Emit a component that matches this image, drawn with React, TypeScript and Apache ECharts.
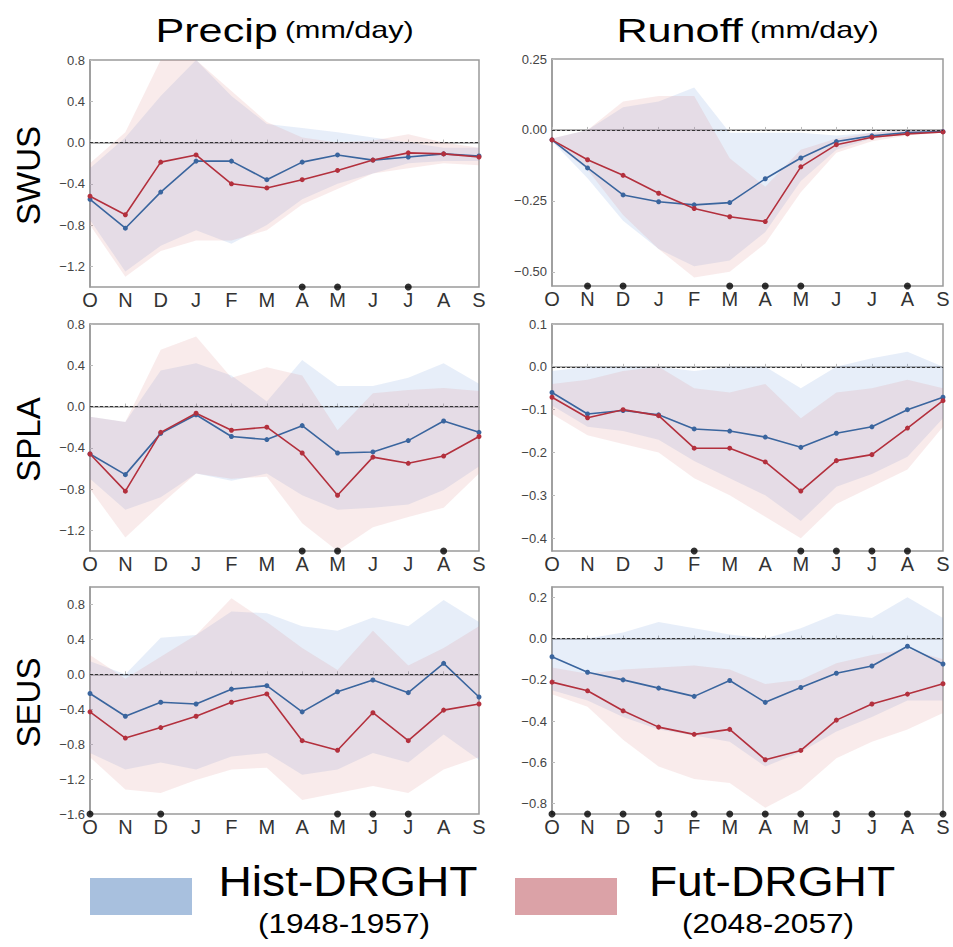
import React, { useEffect, useRef } from 'react';
import * as echarts from 'echarts';

const FONT = '"Liberation Sans", Arial, Helvetica, sans-serif';

const months = ['Oct', 'Nov', 'Dec', 'Jan', 'Feb', 'Mar', 'Apr', 'May', 'Jun', 'Jul', 'Aug', 'Sep'];

// ---------- SWUS precip ----------
const swusPrecipHist = [-0.55, -0.83, -0.48, -0.18, -0.18, -0.36, -0.19, -0.12, -0.17, -0.14, -0.11, -0.13];
const swusPrecipFut = [-0.52, -0.70, -0.19, -0.12, -0.40, -0.44, -0.36, -0.27, -0.17, -0.10, -0.11, -0.14];
const swusPrecipHistHi = [-0.25, 0.05, 0.45, 0.8, 0.45, 0.18, 0.14, 0.1, 0.05, 0.0, -0.05, -0.05];
const swusPrecipHistLo = [-0.75, -1.25, -1.0, -0.85, -0.98, -0.8, -0.55, -0.4, -0.3, -0.2, -0.18, -0.18];
const swusPrecipFutHi = [-0.2, 0.1, 0.8, 0.8, 0.5, 0.2, 0.05, 0.0, 0.02, 0.08, 0.0, -0.05];
const swusPrecipFutLo = [-0.8, -1.3, -1.05, -0.95, -0.95, -0.85, -0.6, -0.45, -0.3, -0.25, -0.2, -0.22];
const swusPrecipSig = ['Apr', 'May', 'Jul'];

// ---------- SWUS runoff ----------
const swusRunoffHist = [-0.035, -0.134, -0.229, -0.253, -0.264, -0.256, -0.172, -0.099, -0.041, -0.021, -0.009, -0.006];
const swusRunoffFut = [-0.035, -0.105, -0.160, -0.223, -0.277, -0.306, -0.323, -0.130, -0.052, -0.026, -0.014, -0.007];
const swusRunoffHistHi = [-0.03, 0.0, 0.08, 0.1, 0.15, -0.01, -0.01, -0.01, -0.02, -0.01, 0.0, 0.0];
const swusRunoffHistLo = [-0.04, -0.17, -0.32, -0.42, -0.48, -0.46, -0.36, -0.18, -0.07, -0.03, -0.015, -0.01];
const swusRunoffFutHi = [-0.03, 0.0, 0.1, 0.12, 0.12, -0.1, -0.2, -0.07, -0.03, -0.01, 0.0, 0.0];
const swusRunoffFutLo = [-0.04, -0.14, -0.3, -0.42, -0.52, -0.5, -0.4, -0.22, -0.08, -0.04, -0.02, -0.01];
const swusRunoffSig = ['Nov', 'Dec', 'Mar', 'Apr', 'May', 'Aug'];

// ---------- SPLA precip ----------
const splaPrecipHist = [-0.46, -0.66, -0.26, -0.08, -0.29, -0.32, -0.185, -0.45, -0.44, -0.33, -0.14, -0.25];
const splaPrecipFut = [-0.46, -0.82, -0.25, -0.065, -0.23, -0.20, -0.45, -0.86, -0.49, -0.55, -0.48, -0.29];
const splaPrecipHistHi = [-0.1, -0.15, 0.35, 0.42, 0.3, 0.05, 0.45, 0.2, 0.2, 0.28, 0.42, 0.22];
const splaPrecipHistLo = [-0.7, -1.0, -0.88, -0.65, -0.72, -0.65, -0.86, -1.0, -0.98, -0.95, -0.81, -0.58];
const splaPrecipFutHi = [-0.1, -0.15, 0.55, 0.68, 0.28, 0.38, 0.3, -0.23, 0.13, 0.16, 0.18, 0.15];
const splaPrecipFutLo = [-0.8, -1.27, -0.95, -0.65, -0.7, -0.68, -1.13, -1.4, -1.17, -1.07, -0.98, -0.65];
const splaPrecipSig = ['Apr', 'May', 'Aug'];

// ---------- SPLA runoff ----------
const splaRunoffHist = [-0.06, -0.11, -0.102, -0.112, -0.145, -0.15, -0.164, -0.188, -0.155, -0.14, -0.10, -0.071];
const splaRunoffFut = [-0.071, -0.119, -0.10, -0.114, -0.19, -0.19, -0.222, -0.29, -0.219, -0.205, -0.143, -0.079];
const splaRunoffHistHi = [-0.01, 0.0, 0.0, 0.0, -0.01, 0.0, 0.0, -0.05, 0.0, 0.02, 0.035, 0.0];
const splaRunoffHistLo = [-0.09, -0.14, -0.15, -0.17, -0.22, -0.26, -0.3, -0.36, -0.28, -0.25, -0.21, -0.12];
const splaRunoffFutHi = [-0.04, -0.03, -0.01, 0.0, -0.05, -0.06, -0.04, -0.12, -0.06, -0.05, -0.03, -0.05];
const splaRunoffFutLo = [-0.11, -0.16, -0.18, -0.2, -0.26, -0.3, -0.35, -0.4, -0.32, -0.28, -0.24, -0.14];
const splaRunoffSig = ['Feb', 'May', 'Jun', 'Jul', 'Aug'];

// ---------- SEUS precip ----------
const seusPrecipHist = [-0.22, -0.48, -0.32, -0.34, -0.17, -0.13, -0.43, -0.20, -0.065, -0.21, 0.126, -0.26];
const seusPrecipFut = [-0.43, -0.73, -0.61, -0.48, -0.32, -0.225, -0.76, -0.87, -0.44, -0.76, -0.41, -0.34];
const seusPrecipHistHi = [0.15, 0.0, 0.42, 0.45, 0.72, 0.7, 0.55, 0.5, 0.65, 0.55, 0.85, 0.6];
const seusPrecipHistLo = [-0.9, -1.09, -1.01, -1.09, -0.94, -0.9, -1.15, -1.09, -0.9, -1.01, -0.69, -0.98];
const seusPrecipFutHi = [0.22, -0.05, 0.2, 0.45, 0.87, 0.6, 0.3, 0.05, 0.5, 0.1, 0.3, 0.55];
const seusPrecipFutLo = [-0.95, -1.32, -1.36, -1.21, -1.09, -1.07, -1.44, -1.36, -1.28, -1.36, -1.09, -0.95];
const seusPrecipSig = ['Oct', 'Dec', 'May', 'Jun', 'Jul'];

// ---------- SEUS runoff ----------
const seusRunoffHist = [-0.088, -0.163, -0.2, -0.24, -0.28, -0.203, -0.309, -0.237, -0.168, -0.133, -0.037, -0.123];
const seusRunoffFut = [-0.211, -0.253, -0.35, -0.429, -0.464, -0.44, -0.587, -0.542, -0.395, -0.317, -0.269, -0.219];
const seusRunoffHistHi = [0.0, 0.0, 0.03, 0.08, 0.05, 0.02, 0.0, 0.05, 0.12, 0.1, 0.2, 0.1];
const seusRunoffHistLo = [-0.25, -0.3, -0.38, -0.44, -0.47, -0.5, -0.62, -0.55, -0.45, -0.38, -0.3, -0.3];
const seusRunoffFutHi = [-0.14, -0.17, -0.15, -0.14, -0.13, -0.15, -0.22, -0.2, -0.12, -0.08, -0.05, -0.1];
const seusRunoffFutLo = [-0.27, -0.33, -0.49, -0.62, -0.68, -0.7, -0.82, -0.73, -0.58, -0.5, -0.44, -0.36];
const seusRunoffSig = ['Oct', 'Nov', 'Dec', 'Jan', 'Feb', 'Mar', 'Apr', 'May', 'Jun', 'Jul', 'Aug', 'Sep'];

// ---------- axis tick labels ----------
const precipTicks = [-1.2, -0.8, -0.4, 0, 0.4, 0.8];
const seusPrecipTicks = [-1.6, -1.2, -0.8, -0.4, 0, 0.4, 0.8];
const swusRunoffTicks = [-0.5, -0.25, 0, 0.25];
const splaRunoffTicks = [-0.4, -0.3, -0.2, -0.1, 0, 0.1];
const seusRunoffTicks = [-0.8, -0.6, -0.4, -0.2, 0, 0.2];

const colTitles = ['Precip', 'Runoff'];
const rowTitles = ['SWUS', 'SPLA', 'SEUS'];
const legendNames = ['Hist-DRGHT', 'Fut-DRGHT'];
const legendYears = ['(1948-1957)', '(2048-2057)'];

const HIST_LINE = '#3a659e';
const FUT_LINE = '#b3303d';
const HIST_BAND = 'rgba(120,160,220,0.18)';
const FUT_BAND = 'rgba(220,130,130,0.16)';

type Panel = {
  hist: number[]; fut: number[];
  hHi: number[]; hLo: number[]; fHi: number[]; fLo: number[];
  sig: string[]; min: number; max: number; ticks: number[]; dec: number;
  left: number; top: number; width: number; height: number;
};

const LX = 90, LW = 389, RX = 552, RW = 391, H = 227;
const TOPS = [60, 324, 587];

const panels: Panel[] = [
  { hist: swusPrecipHist, fut: swusPrecipFut, hHi: swusPrecipHistHi, hLo: swusPrecipHistLo, fHi: swusPrecipFutHi, fLo: swusPrecipFutLo, sig: swusPrecipSig, min: -1.4, max: 0.8, ticks: precipTicks, dec: 1, left: LX, top: TOPS[0], width: LW, height: H },
  { hist: swusRunoffHist, fut: swusRunoffFut, hHi: swusRunoffHistHi, hLo: swusRunoffHistLo, fHi: swusRunoffFutHi, fLo: swusRunoffFutLo, sig: swusRunoffSig, min: -0.55, max: 0.25, ticks: swusRunoffTicks, dec: 2, left: RX, top: TOPS[0] - 1, width: RW, height: H },
  { hist: splaPrecipHist, fut: splaPrecipFut, hHi: splaPrecipHistHi, hLo: splaPrecipHistLo, fHi: splaPrecipFutHi, fLo: splaPrecipFutLo, sig: splaPrecipSig, min: -1.4, max: 0.8, ticks: precipTicks, dec: 1, left: LX, top: TOPS[1], width: LW, height: H },
  { hist: splaRunoffHist, fut: splaRunoffFut, hHi: splaRunoffHistHi, hLo: splaRunoffHistLo, fHi: splaRunoffFutHi, fLo: splaRunoffFutLo, sig: splaRunoffSig, min: -0.43, max: 0.1, ticks: splaRunoffTicks, dec: 1, left: RX, top: TOPS[1], width: RW, height: H },
  { hist: seusPrecipHist, fut: seusPrecipFut, hHi: seusPrecipHistHi, hLo: seusPrecipHistLo, fHi: seusPrecipFutHi, fLo: seusPrecipFutLo, sig: seusPrecipSig, min: -1.6, max: 1.0, ticks: seusPrecipTicks, dec: 1, left: LX, top: TOPS[2], width: LW, height: H },
  { hist: seusRunoffHist, fut: seusRunoffFut, hHi: seusRunoffHistHi, hLo: seusRunoffHistLo, fHi: seusRunoffFutHi, fLo: seusRunoffFutLo, sig: seusRunoffSig, min: -0.85, max: 0.25, ticks: seusRunoffTicks, dec: 1, left: RX, top: TOPS[2], width: RW, height: H },
];

function bandSeries(idx: number, lo: number[], hi: number[], color: string) {
  return {
    type: 'custom',
    xAxisIndex: idx,
    yAxisIndex: idx,
    silent: true,
    z: 1,
    data: lo.map((v, i) => [i, v, hi[i]]),
    encode: { x: 0, y: [1, 2] },
    renderItem: (params: any, api: any) => {
      if (params.dataIndex !== 0) return null;
      const pts: number[][] = [];
      for (let i = 0; i < hi.length; i++) pts.push(api.coord([i, hi[i]]));
      for (let i = lo.length - 1; i >= 0; i--) pts.push(api.coord([i, lo[i]]));
      return { type: 'polygon', shape: { points: pts }, style: { fill: color } };
    },
  };
}

function buildOption() {
  const grid: any[] = [];
  const xAxis: any[] = [];
  const yAxis: any[] = [];
  const series: any[] = [];
  panels.forEach((p, idx) => {
    grid.push({ left: p.left, top: p.top, width: p.width, height: p.height, show: true, borderColor: '#9a9a9a', borderWidth: 1.5, backgroundColor: 'transparent' });
    xAxis.push({
      type: 'category', gridIndex: idx, data: months, boundaryGap: false,
      axisLine: { show: true, lineStyle: { color: '#9a9a9a', width: 1.5 } },
      axisTick: { show: true, inside: true, length: 3, lineStyle: { color: '#bbb' } },
      axisLabel: { formatter: (m: string) => m[0], fontSize: 20, color: '#333', fontFamily: FONT, margin: 3, interval: 0 },
      splitLine: { show: false },
    });
    yAxis.push({
      type: 'value', gridIndex: idx, min: p.min, max: p.max,
      axisLine: { show: true, lineStyle: { color: '#9a9a9a', width: 1.5 } },
      axisTick: { show: true, inside: true, length: 3, customValues: p.ticks, lineStyle: { color: '#bbb' } },
      axisLabel: {
        customValues: p.ticks, fontSize: 13, color: '#444', fontFamily: FONT, margin: 5,
        formatter: (v: number) => Number(v).toFixed(p.dec).replace('-', '\u2212'),
      },
      splitLine: { show: false },
    });
    series.push(bandSeries(idx, p.hLo, p.hHi, HIST_BAND));
    series.push(bandSeries(idx, p.fLo, p.fHi, FUT_BAND));
    series.push({
      type: 'line', xAxisIndex: idx, yAxisIndex: idx, data: p.hist, z: 3,
      symbol: 'circle', symbolSize: 5, lineStyle: { color: HIST_LINE, width: 1.6 }, itemStyle: { color: HIST_LINE },
      markLine: {
        silent: true, symbol: ['none', 'none'], label: { show: false },
        lineStyle: { type: [3, 2], color: '#333', width: 1 },
        data: [{ yAxis: 0 }],
      },
    });
    series.push({
      type: 'line', xAxisIndex: idx, yAxisIndex: idx, data: p.fut, z: 3,
      symbol: 'circle', symbolSize: 5, lineStyle: { color: FUT_LINE, width: 1.6 }, itemStyle: { color: FUT_LINE },
    });
    series.push({
      type: 'scatter', xAxisIndex: idx, yAxisIndex: idx, z: 6, clip: false,
      data: p.sig.map((m) => [m, p.min]), symbolSize: 7, itemStyle: { color: '#000' },
    });
  });

  const graphic: any[] = [];
  const titleX = [LX + LW / 2, RX + RW / 2];
  colTitles.forEach((t, i) => {
    graphic.push({
      type: 'text', x: titleX[i], y: 30, scaleX: 1.27,
      style: {
        text: `{a|${t}}{s| }{b|(mm/day)}`, align: 'center', verticalAlign: 'middle',
        rich: {
          a: { fontSize: 34, fontFamily: FONT, fill: '#000' },
          s: { fontSize: 20, fontFamily: FONT, fill: '#000' },
          b: { fontSize: 24, fontFamily: FONT, fill: '#000' },
        },
      },
    });
  });
  rowTitles.forEach((t, i) => {
    graphic.push({
      type: 'text', x: 28, y: TOPS[i] + H / 2 + 2, rotation: Math.PI / 2,
      style: { text: t, fontSize: 33, fontFamily: FONT, fill: '#000', align: 'center', verticalAlign: 'middle' },
    });
  });
  const legRectX = [90, 515];
  const legTextX = [348, 772];
  const legColors = ['#a8c0de', '#dba2a7'];
  legendNames.forEach((n, i) => {
    graphic.push({ type: 'rect', shape: { x: legRectX[i], y: 878, width: 102, height: 37 }, style: { fill: legColors[i] } });
    graphic.push({
      type: 'text', x: legTextX[i], y: 881, scaleX: 1.1,
      style: { text: n, fontSize: 42, fontFamily: FONT, fill: '#000', align: 'center', verticalAlign: 'middle' },
    });
    graphic.push({
      type: 'text', x: legTextX[i] - 4, y: 923, scaleX: 1.17,
      style: { text: legendYears[i], fontSize: 27, fontFamily: FONT, fill: '#000', align: 'center', verticalAlign: 'middle' },
    });
  });

  return { animation: false, backgroundColor: '#fff', grid, xAxis, yAxis, series, graphic };
}

export default function App() {
  const ref = useRef<HTMLDivElement>(null);
  useEffect(() => {
    if (!ref.current) return;
    const chart = echarts.init(ref.current, undefined, { renderer: 'svg' });
    chart.setOption(buildOption() as any);
    return () => chart.dispose();
  }, []);
  return <div ref={ref} style={{ position: 'fixed', left: 0, top: 0, width: 953, height: 947, background: '#fff' }} />;
}
